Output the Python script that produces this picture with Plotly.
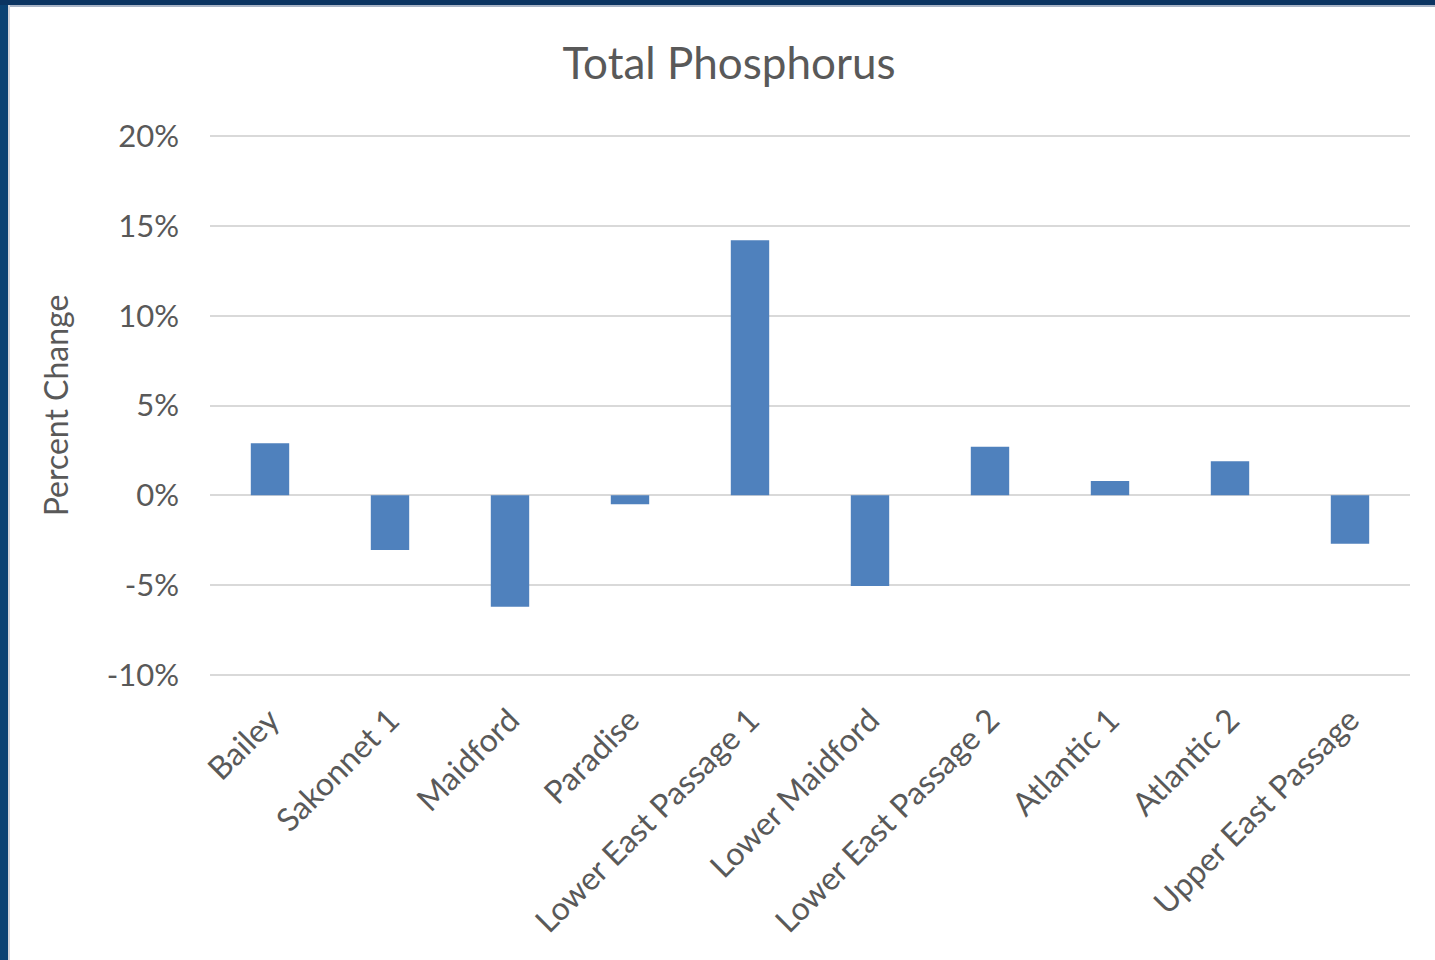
import plotly.graph_objects as go

# Data (percent change)
sites = ['Bailey', 'Sakonnet 1', 'Maidford', 'Paradise', 'Lower East Passage 1',
         'Lower Maidford', 'Lower East Passage 2', 'Atlantic 1', 'Atlantic 2',
         'Upper East Passage']
pct_change = [2.9, -3.05, -6.2, -0.5, 14.2, -5.05, 2.7, 0.8, 1.9, -2.7]

y_ticks = [-10, -5, 0, 5, 10, 15, 20]
y_tick_labels = ['-10%', '-5%', '0%', '5%', '10%', '15%', '20%']

W, H = 1435, 960
L, R, T, B = 210, 25, 135, 284
PW, PH = W - L - R, H - T - B

FONT = 'Lato'
GREY = '#595959'

fig = go.Figure()
fig.add_trace(go.Bar(
    x=sites,
    y=pct_change,
    width=0.32,
    marker=dict(color='#4F81BD', line=dict(width=0)),
    hovertemplate='%{x}: %{y:.1f}%<extra></extra>'
))


def px_x(p):
    return (p - L) / PW


def px_y(p):
    return 1 - (p - T) / PH


# frame decoration (dark blue slide border on the left and top)
shapes = [
    dict(type='rect', xref='paper', yref='paper', layer='above',
         x0=px_x(0), x1=px_x(8), y0=px_y(H), y1=px_y(0),
         fillcolor='#0b4273', line=dict(width=0)),
    dict(type='rect', xref='paper', yref='paper', layer='above',
         x0=px_x(0), x1=px_x(W), y0=px_y(5), y1=px_y(0),
         fillcolor='#0b3461', line=dict(width=0)),
    dict(type='rect', xref='paper', yref='paper', layer='above',
         x0=px_x(8), x1=px_x(W), y0=px_y(7), y1=px_y(5),
         fillcolor='#a9b4c6', line=dict(width=0)),
    dict(type='rect', xref='paper', yref='paper', layer='above',
         x0=px_x(8), x1=px_x(10), y0=px_y(H), y1=px_y(5),
         fillcolor='#d4d4da', line=dict(width=0)),
]

fig.update_layout(
    width=W, height=H,
    margin=dict(l=L, r=R, t=T, b=B, autoexpand=False),
    paper_bgcolor='white',
    plot_bgcolor='white',
    showlegend=False,
    font=dict(family=FONT, color=GREY),
    title=dict(text='Total Phosphorus', x=(729 - L) / PW, xref='paper',
               xanchor='center', y=1 - 64 / H, yanchor='middle',
               font=dict(family=FONT, size=44, color=GREY)),
    shapes=shapes,
    bargap=0.68,
)

fig.update_xaxes(
    tickangle=-45,
    tickfont=dict(family=FONT, size=32, color=GREY),
    ticklabelstandoff=18,
    showgrid=False,
    showline=False,
    ticks='',
    automargin=False,
)

fig.update_yaxes(
    range=[-10.06, 20.06],
    tickvals=y_ticks,
    ticktext=y_tick_labels,
    tickfont=dict(family=FONT, size=31, color=GREY),
    ticklabelstandoff=30,
    showgrid=True,
    gridcolor='#d9d9d9',
    gridwidth=2,
    zeroline=True,
    zerolinecolor='#d9d9d9',
    zerolinewidth=2,
    showline=False,
    ticks='',
    automargin=False,
    title=dict(text='Percent Change', standoff=28,
               font=dict(family=FONT, size=32, color=GREY)),
)

fig.write_html('out.html',
               config={'displayModeBar': False},
               post_script="document.body.style.margin='0';"
                           "document.body.style.overflow='hidden';")
